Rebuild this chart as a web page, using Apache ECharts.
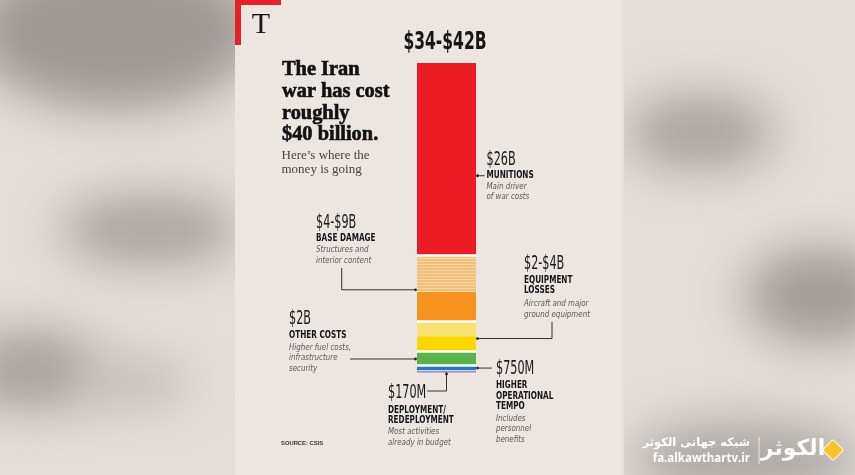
<!DOCTYPE html>
<html><head><meta charset="utf-8">
<script src="https://cdn.jsdelivr.net/npm/echarts@6/dist/echarts.min.js"></script>
<style>
html,body{margin:0;padding:0;width:855px;height:475px;overflow:hidden;background:#E4DDD8;}
.blob{position:absolute;border-radius:50%;filter:blur(24px);}
#panel{position:absolute;left:235px;top:0;width:386px;height:475px;background:#ECE5E0;border-right:3px solid #EBDFD8;}
#chart{position:absolute;left:0;top:0;width:855px;height:475px;}
</style></head><body>
<div class="blob" style="left:-30px;top:-50px;width:290px;height:160px;background:#9E9994;"></div>
<div class="blob" style="left:60px;top:195px;width:180px;height:70px;background:#A8A39E;"></div>
<div class="blob" style="left:-40px;top:330px;width:140px;height:80px;background:#A6A19C;"></div>
<div class="blob" style="left:70px;top:360px;width:120px;height:45px;background:#BEB9B4;"></div>
<div class="blob" style="left:625px;top:95px;width:150px;height:75px;background:#A8A39E;"></div>
<div class="blob" style="left:745px;top:248px;width:150px;height:95px;background:#A09B96;"></div>
<div class="blob" style="left:630px;top:420px;width:230px;height:80px;background:#ADA8A3;"></div>
<div id="panel"></div>
<div id="chart"></div>
<script>
// ---- data ----
const categories = ['Iran war cost'];
const segmentNames = ['Deployment/redeployment', 'Higher operational tempo', 'Other costs',
  'Equipment losses (low)', 'Equipment losses (upper range)', 'Base damage (low)',
  'Base damage (upper range)', 'Munitions'];
const segmentValues = [0.17, 0.75, 2, 2, 2, 4, 5, 26]; // $ billions, bottom to top
const groupEnds = [0, 1, 2, 4, 6]; // separators after these segments
const topLabel = '$34-$42B';
const titleLines = ['The Iran', 'war has cost', 'roughly', '$40 billion.'];
const subtitleLines = ["Here\u2019s where the", 'money is going'];
const annValues = ['$26B', '$4-$9B', '$2-$4B', '$2B', '$750M', '$170M'];
const annTitles = [['MUNITIONS'], ['BASE DAMAGE'], ['EQUIPMENT', 'LOSSES'], ['OTHER COSTS'],
  ['HIGHER', 'OPERATIONAL', 'TEMPO'], ['DEPLOYMENT/', 'REDEPLOYMENT']];
const annNotes = [['Main driver', 'of war costs'], ['Structures and', 'interior content'],
  ['Aircraft and major', 'ground equipment'], ['Higher fuel costs,', 'infrastructure', 'security'],
  ['Includes', 'personnel', 'benefits'], ['Most activities', 'already in budget']];
const anchorValues = [26.65, 11.2, 4.6, 1.83, 0.6, 0]; // where each pointer touches the bar
const sourceText = 'SOURCE: CSIS';

// ---- styles ----
const segmentColors = ['#8A64AE', '#1F78C1', '#5BB449', '#FDD700', '#F8E272', '#F6921E', '#EFC07E', '#EC1C24'];
const NARROW = '"DejaVu Sans Condensed",sans-serif';
const SERIF = '"Liberation Serif",serif';
const GRID = {left: 417, right: 379, top: 63, bottom: 102.5};

const chart = echarts.init(document.getElementById('chart'));
const total = segmentValues.reduce((a, b) => a + b, 0);
const cum = []; segmentValues.reduce((a, b, i) => (cum[i] = a + b), 0);

chart.setOption({
  animation: false,
  backgroundColor: 'transparent',
  grid: GRID,
  xAxis: {type: 'category', data: categories, show: false},
  yAxis: {type: 'value', min: 0, max: total, show: false},
  series: segmentValues.map((v, i) => {
    const s = {
      type: 'bar', name: segmentNames[i], stack: 'cost', data: [v], barWidth: '100%', silent: true,
      z: i === 0 ? 6 : 2,
      itemStyle: {color: segmentColors[i]}
    };
    if (i === 6) s.itemStyle.decal = {symbol: 'rect', symbolSize: 1, color: 'rgba(250,222,170,0.75)',
      dashArrayX: [1, 0], dashArrayY: [1, 2], rotation: 0};
    if (i === 7) s.markLine = {
      silent: true, symbol: 'none', z: 5, label: {show: false},
      lineStyle: {color: '#FFFFFF', width: 2.5, type: 'solid'},
      data: groupEnds.map(k => ({yAxis: cum[k]}))
    };
    return s;
  })
});

function T(text, x, y, o) {
  const st = {text: text, x: 0, y: 0, fill: o.c || '#161616', fontSize: o.s, fontFamily: o.f,
    fontWeight: o.w || 'normal', fontStyle: o.i ? 'italic' : 'normal',
    textAlign: o.a || 'left', textVerticalAlign: 'middle'};
  if (o.stroke) { st.stroke = o.c || '#161616'; st.lineWidth = o.stroke; }
  return {type: 'text', x: x, y: y, scaleX: o.sx || 1, silent: true, z: 20, style: st};
}
const g = [];
// corner mark
g.push({type: 'rect', silent: true, shape: {x: 235, y: 0, width: 46, height: 5}, style: {fill: '#E8202A'}});
g.push({type: 'rect', silent: true, shape: {x: 235, y: 0, width: 6, height: 45}, style: {fill: '#E8202A'}});
g.push(T('T', 261, 24.8, {s: 30, f: SERIF, a: 'center'}));
// top total label
g.push(T(topLabel, 445, 43, {s: 24, f: NARROW, w: 'bold', a: 'center', sx: 0.72}));
// title
const titleY = [69.9, 91.9, 113.4, 134.9];
titleLines.forEach((t, i) => g.push(T(t, 282, titleY[i], {s: 21, f: SERIF, w: 'bold', c: '#111', stroke: 0.6, sx: 0.97})));
const subY = [155.6, 169.6];
subtitleLines.forEach((t, i) => g.push(T(t, 281.5, subY[i], {s: 13, f: SERIF, c: '#444'})));

// annotation layout
const annLayout = [
  {x: 486.5, vY: 159.9, tY: [175], nY: [186.7, 196.7]},
  {x: 316, vY: 222.9, tY: [238.2], nY: [250, 260.2]},
  {x: 524, vY: 264.4, tY: [280, 290], nY: [303.7, 314.2]},
  {x: 289, vY: 319.4, tY: [335.5], nY: [347.2, 357.7, 368.2]},
  {x: 496, vY: 368.9, tY: [385.5, 396, 406.5], nY: [418.2, 428.7, 439.2]},
  {x: 388, vY: 393, tY: [410.5, 420], nY: [431.7, 442.2]}
];
annLayout.forEach((L, k) => {
  g.push(T(annValues[k], L.x, L.vY, {s: 19.5, f: NARROW, sx: 0.64, c: '#1a1a1a'}));
  annTitles[k].forEach((t, j) => g.push(T(t, L.x, L.tY[j], {s: 10, f: NARROW, w: 'bold', sx: 0.81})));
  annNotes[k].forEach((t, j) => g.push(T(t, L.x, L.nY[j], {s: 9.5, f: NARROW, i: true, c: '#5a5a5a', sx: 0.83})));
});

// connectors: bar-side endpoints from the value axis
const px = v => chart.convertToPixel({gridIndex: 0}, [categories[0], v]);
const barL = GRID.left, barR = 855 - GRID.right;
const ay = anchorValues.map(v => px(v)[1]);
const cx = px(0)[0];
const LINE = {stroke: '#333', lineWidth: 1, fill: 'none'};
const conn = [
  [[484.5, ay[0]], [barR + 1.5, ay[0]]],
  [[341.7, 268], [341.7, ay[1]], [barL - 1.5, ay[1]]],
  [[552, 321.7], [552, ay[2]], [barR + 1.5, ay[2]]],
  [[350, ay[3]], [barL - 1.5, ay[3]]],
  [[491.7, ay[4]], [barR + 1.5, ay[4]]],
  [[427.3, 391], [cx, 391], [cx, ay[5] + 1.5]]
];
conn.forEach(pts => {
  g.push({type: 'polyline', silent: true, z: 15, shape: {points: pts}, style: LINE});
  const e = pts[pts.length - 1];
  g.push({type: 'circle', silent: true, z: 15, shape: {cx: e[0], cy: e[1], r: 1.4}, style: {fill: '#222'}});
});

g.push(T(sourceText, 281, 443.7, {s: 5.5, f: '"Liberation Sans",sans-serif', w: 'bold', c: '#333', sx: 1.06}));

// watermark
g.push({type: 'rect', silent: true, z: 20, x: 833, y: 450, rotation: Math.PI / 4,
  shape: {x: -7.5, y: -7.5, width: 15, height: 15, r: 2}, style: {fill: '#F6C22E', stroke: '#FFF3C8', lineWidth: 1.2}});
g.push(T('\u0627\u0644\u0643\u0648\u062B\u0631', 793, 449, {s: 22, f: '"DejaVu Sans",sans-serif', w: 'bold', c: '#FFFFFF', a: 'center'}));
g.push({type: 'rect', silent: true, z: 20, shape: {x: 758.5, y: 437, width: 1, height: 27}, style: {fill: 'rgba(255,255,255,0.75)'}});
g.push(T('\u0634\u0628\u06A9\u0647 \u062C\u0647\u0627\u0646\u06CC \u0627\u0644\u06A9\u0648\u062B\u0631', 750, 443, {s: 11.5, f: '"DejaVu Sans",sans-serif', w: 'bold', c: '#FFFFFF', a: 'right'}));
g.push(T('fa.alkawthartv.ir', 750, 459, {s: 11.5, f: '"Open Sans",sans-serif', w: 'bold', c: '#FFFFFF', a: 'right'}));

chart.setOption({graphic: {elements: g}});
</script>
</body></html>
